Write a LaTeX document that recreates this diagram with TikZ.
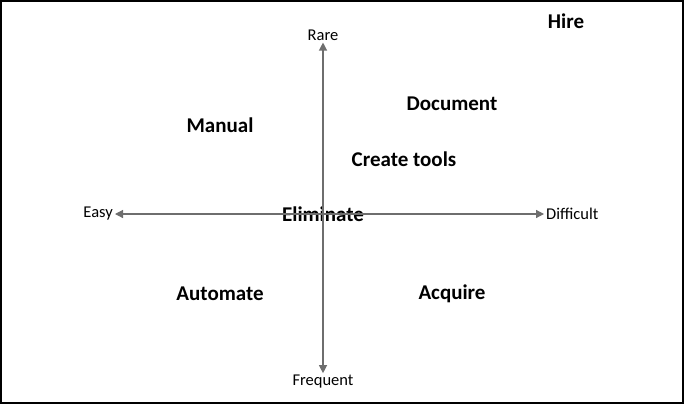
\documentclass[tikz,border=0pt]{standalone}
\usepackage{fontspec}
\setmainfont{Carlito}
\usetikzlibrary{arrows.meta}
\definecolor{axisgray}{HTML}{6E6E6E}
\tikzset{>={Triangle[length=8pt,width=8pt]},
  axis/.style={->,axisgray,line width=1.2pt},
  ends/.style={font=\fontsize{16.5}{19}\selectfont,inner sep=2pt},
  zone/.style={font=\fontsize{21}{24}\selectfont\bfseries,inner sep=1pt}}
\begin{document}
\begin{tikzpicture}[x=1pt,y=-1pt]
\draw[black,line width=2pt] (1,1) rectangle (683,403);
\useasboundingbox (0,0) rectangle (684,404);
% axis ends
\node[ends] (rare) at (323,35) {Rare};
\node[ends] (freq) at (323,382) {Frequent};
\node[ends,anchor=east] (easy) at (115,214) {Easy};
\node[ends,anchor=west] (diff) at (544,214) {Difficult};
% quadrant texts
\node[zone] (hire) at (566,21) {Hire};
\node[zone] (doc) at (452,104) {Document};
\node[zone] (manual) at (220,125) {Manual};
\node[zone] (tools) at (404,159) {Create tools};
\node[zone] (elim) at (323,214) {Eliminate};
\node[zone] (auto) at (220,294) {Automate};
\node[zone] (acq) at (452,294) {Acquire};
% axes over the text
\coordinate (c) at (323,214);
\draw[axis] (c) -- (rare.south);
\draw[axis] (c) -- (freq.north);
\draw[axis] (c) -- (easy.east);
\draw[axis] (c) -- (diff.west);
\end{tikzpicture}
\end{document}
